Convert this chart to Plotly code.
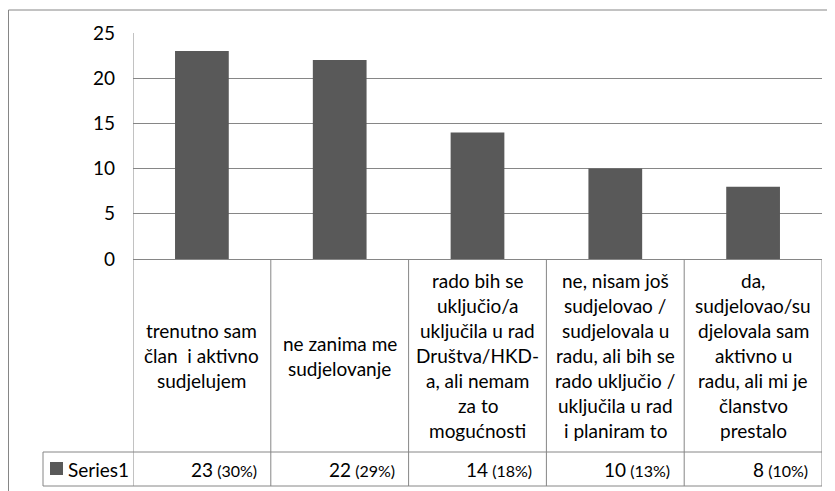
import plotly.graph_objects as go

# ---- data ----
categories = [
    "trenutno sam<br>član  i aktivno<br>sudjelujem",
    "ne zanima me<br>sudjelovanje",
    "rado bih se<br>uključio/a<br>uključila u rad<br>Društva/HKD-<br>a, ali nemam<br>za to<br>mogućnosti",
    "ne, nisam još<br>sudjelovao /<br>sudjelovala u<br>radu, ali bih se<br>rado uključio /<br>uključila u rad<br>i planiram to",
    "da,<br>sudjelovao/su<br>djelovala sam<br>aktivno u<br>radu, ali mi je<br>članstvo<br>prestalo",
]
values = [23, 22, 14, 10, 8]
percent_labels = ["30%", "29%", "18%", "13%", "10%"]
series_name = "Series1"
y_ticks = [0, 5, 10, 15, 20, 25]

# ---- layout geometry (page pixels; the page body has an 8px margin) ----
OFF = 8
PW, PH = 835, 491
FW, FH = PW - OFF, PH - OFF
L, R, T, B = 133, 822, 33, 259
W, H = R - L, B - T
ROW1_BOTTOM = 452
ROW2_BOTTOM = 486
LEG_LEFT = 43

def px_x(p):
    return (p - L) / W

def px_y(p):
    return (B - p) / H

FONT = "Lato, Carlito, Calibri, sans-serif"
FS = 19
GRID = "#868686"
BAR = "#595959"

n = len(categories)
xs = list(range(n))

fig = go.Figure()
fig.add_trace(go.Bar(
    x=xs, y=values, marker=dict(color=BAR, line=dict(width=0)),
    width=0.39, showlegend=False, hoverinfo="skip",
))

shapes = []
line = dict(color=GRID, width=1)
for i in range(n + 1):
    b = i - 0.5
    top = 1 if i == 0 else 0
    shapes.append(dict(type="line", xref="x", yref="paper", x0=b, x1=b,
                       y0=px_y(ROW2_BOTTOM), y1=top, line=line))
for yy in (ROW1_BOTTOM, ROW2_BOTTOM):
    shapes.append(dict(type="line", xref="paper", yref="paper",
                       x0=px_x(LEG_LEFT), x1=1, y0=px_y(yy), y1=px_y(yy), line=line))
shapes.append(dict(type="line", xref="paper", yref="paper",
                   x0=px_x(LEG_LEFT), x1=px_x(LEG_LEFT),
                   y0=px_y(ROW2_BOTTOM), y1=px_y(ROW1_BOTTOM), line=line))
shapes.append(dict(type="rect", xref="paper", yref="paper",
                   x0=px_x(50), x1=px_x(63), y0=px_y(475), y1=px_y(462),
                   fillcolor=BAR, line=dict(width=0)))
# outer chart frame (top + left visible)
shapes.append(dict(type="rect", xref="paper", yref="paper",
                   x0=px_x(OFF + 0.5), x1=px_x(PW + 30), y0=px_y(PH + 30), y1=px_y(10),
                   line=dict(color=GRID, width=1), fillcolor="rgba(0,0,0,0)", layer="below"))

annotations = []
LINE_H = 25
row_mid = (B + ROW1_BOTTOM) / 2
for i, cat in enumerate(categories):
    lines = cat.split("<br>")
    k = len(lines)
    for j, t in enumerate(lines):
        cy = row_mid + (j - (k - 1) / 2) * LINE_H
        annotations.append(dict(
            xref="x", yref="paper", x=i, y=px_y(cy), text=t, showarrow=False,
            xanchor="center", yanchor="middle", font=dict(family=FONT, size=FS, color="black"),
        ))
val_mid = (ROW1_BOTTOM + ROW2_BOTTOM) / 2
for i, (v, p) in enumerate(zip(values, percent_labels)):
    annotations.append(dict(
        xref="x", yref="paper", x=i + 0.5, y=px_y(val_mid), xshift=-12,
        text=f"{v}<span style='font-size:16px'> ({p})</span>", showarrow=False,
        xanchor="right", yanchor="middle", font=dict(family=FONT, size=FS, color="black"),
    ))
annotations.append(dict(
    xref="paper", yref="paper", x=px_x(66), y=px_y(val_mid), text=series_name,
    showarrow=False, xanchor="left", yanchor="middle",
    font=dict(family=FONT, size=FS, color="black"),
))

fig.update_layout(
    width=FW, height=FH,
    margin=dict(l=L - OFF, r=PW - R, t=T - OFF, b=PH - B, pad=0),
    paper_bgcolor="white", plot_bgcolor="white",
    bargap=0.61,
    xaxis=dict(range=[-0.5, n - 0.5], showticklabels=False, showgrid=False,
               zeroline=False, showline=True, linecolor=GRID, linewidth=1, ticks=""),
    yaxis=dict(range=[0, 25], tickvals=y_ticks, showgrid=True, gridcolor=GRID, gridwidth=1,
               zeroline=False, showline=False, ticks="", ticklabelstandoff=17,
               tickfont=dict(family=FONT, size=FS, color="black")),
    shapes=shapes, annotations=annotations,
    font=dict(family=FONT),
)

fig.write_html("out.html")
